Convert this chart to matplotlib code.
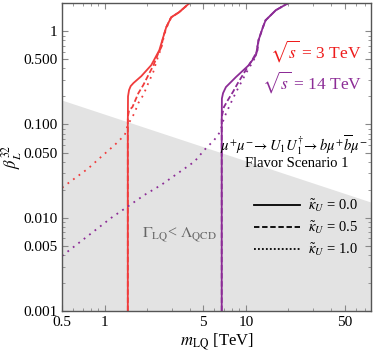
import matplotlib
matplotlib.use("Agg")
from matplotlib import pyplot as plt
from matplotlib.lines import Line2D
import numpy as np

plt.rcParams['font.family'] = ['Liberation Serif', 'DejaVu Serif']
plt.rcParams['mathtext.fontset'] = 'stix'

RED = '#f03c3c'
PURPLE = '#8c2c96'

# sqrt(s) = 3 TeV curves
red_solid_m = [1.46, 1.46, 1.465, 1.49, 1.53, 1.60, 1.82, 2.14, 2.44, 2.60, 2.73, 2.96, 3.37, 3.97]
red_solid_b = [0.001, 0.10, 0.20, 0.234, 0.258, 0.278, 0.330, 0.433, 0.626, 0.863, 1.10, 1.41, 1.60, 1.99]
red_dash_m = [1.46, 1.46, 1.49, 1.575, 1.735, 1.88, 2.04, 2.22, 2.40, 2.52, 2.60, 2.73, 2.96, 3.37, 3.97]
red_dash_b = [0.001, 0.12, 0.142, 0.154, 0.217, 0.265, 0.338, 0.433, 0.582, 0.674, 0.863, 1.10, 1.41, 1.60, 1.99]
red_dot_m = [0.5, 0.618, 0.768, 0.95, 1.18, 1.39, 1.46, 1.63, 1.73, 1.88, 2.04, 2.21, 2.32, 2.44, 2.52,
             2.62, 2.75, 2.96, 3.37, 3.97]
red_dot_b = [0.021, 0.0266, 0.0339, 0.0453, 0.0604, 0.0773, 0.099, 0.133, 0.169, 0.207, 0.278, 0.364,
             0.466, 0.582, 0.658, 0.863, 1.10, 1.41, 1.60, 1.99]

# sqrt(s) = 14 TeV curves
pur_solid_m = [6.75, 6.75, 6.77, 6.9, 7.23, 8.50, 10.5, 11.8, 12.3, 13.2, 13.8, 16.3, 19.8]
pur_solid_b = [0.001, 0.10, 0.19, 0.217, 0.252, 0.322, 0.433, 0.554, 0.80, 1.10, 1.31, 1.68, 1.99]
pur_dash_m = [6.75, 6.75, 6.85, 7.0, 7.47, 8.1, 8.78, 9.5, 10.5, 11.4, 12.1, 12.3, 13.2, 13.8, 16.3, 19.8]
pur_dash_b = [0.001, 0.12, 0.133, 0.154, 0.183, 0.223, 0.278, 0.338, 0.433, 0.527, 0.626, 0.80,
              1.10, 1.31, 1.68, 1.99]
pur_dot_m = [0.5, 1.117, 1.46, 1.92, 2.52, 3.30, 4.33, 5.09, 5.98, 6.59, 7.0, 7.6, 8.2, 8.9, 9.7,
             10.5, 11.2, 11.8, 12.3, 13.2, 13.8, 16.3, 19.8]
pur_dot_b = [0.0039, 0.0100, 0.0132, 0.0176, 0.0225, 0.030, 0.040, 0.0534, 0.0683, 0.0837, 0.117,
             0.154, 0.197, 0.252, 0.322, 0.402, 0.466, 0.554, 0.80, 1.10, 1.31, 1.68, 1.99]

# Gamma_LQ < Lambda_QCD boundary: beta = c / sqrt(m)
boundary_c = 0.129

x_ticks = [0.5, 1, 5, 10, 50]
x_labels = ['0.5', '1', '5', '10', '50']
y_ticks = [0.001, 0.005, 0.010, 0.050, 0.100, 0.500, 1]
y_labels = ['0.001', '0.005', '0.010', '0.050', '0.100', '0.500', '1']
kappa_labels = [r'$\tilde{\kappa}_U$ = 0.0', r'$\tilde{\kappa}_U$ = 0.5', r'$\tilde{\kappa}_U$ = 1.0']

xmin, xmax = 0.5, 77
ymin, ymax = 0.001, 2.0

fig = plt.figure(figsize=(3.74, 3.53), dpi=100)
ax = fig.add_axes([0.166, 0.119, 0.826, 0.872])
ax.set_xscale('log')
ax.set_yscale('log')
ax.set_xlim(xmin, xmax)
ax.set_ylim(ymin, ymax)

mm = np.geomspace(xmin, xmax, 200)
ax.fill_between(mm, ymin, boundary_c / np.sqrt(mm), color='#e3e3e3', lw=0, zorder=0)

lw = 1.3
ax.plot(red_solid_m, red_solid_b, color=RED, lw=lw, ls='-')
ax.plot(red_dash_m, red_dash_b, color=RED, lw=lw, ls=(0, (3, 1.5)))
ax.plot(red_dot_m, red_dot_b, color=RED, lw=lw, ls=(0, (1, 2.8)))
ax.plot(pur_solid_m, pur_solid_b, color=PURPLE, lw=lw, ls='-')
ax.plot(pur_dash_m, pur_dash_b, color=PURPLE, lw=lw, ls=(0, (3, 1.5)))
ax.plot(pur_dot_m, pur_dot_b, color=PURPLE, lw=lw, ls=(0, (1, 2.8)))

ax.set_xticks(x_ticks)
ax.set_xticklabels(x_labels)
ax.set_yticks(y_ticks)
ax.set_yticklabels(y_labels)
ax.tick_params(which='both', direction='in', top=True, right=True, labelsize=11, color='#888888')
ax.tick_params(which='major', length=4)
ax.tick_params(which='minor', length=2)
for s in ax.spines.values():
    s.set_color('#555555')
    s.set_linewidth(1.0)

ax.set_xlabel(r'$m_{\rm LQ}$ [TeV]', fontsize=12, labelpad=2)
ax.set_ylabel(r'$\beta_L^{32}$', fontsize=12)
ax.yaxis.set_label_coords(-0.122, 0.5)

ax.text(0.97, 0.845, r'$\sqrt{s}$ = 3 TeV', color='#ee1c1c', fontsize=12.5,
        transform=ax.transAxes, ha='right', va='center')
ax.text(0.97, 0.745, r'$\sqrt{s}$ = 14 TeV', color=PURPLE, fontsize=12.5,
        transform=ax.transAxes, ha='right', va='center')
ax.text(0.75, 0.54, r'$\mu^{+}\mu^{-}\!\to U_1U_1^{\dagger}\!\to b\mu^{+}\overline{b}\mu^{-}$',
        fontsize=10.5, transform=ax.transAxes, ha='center', va='center')
ax.text(0.76, 0.478, 'Flavor Scenario 1', fontsize=10.5,
        transform=ax.transAxes, ha='center', va='center')
ax.text(0.38, 0.245, r'$\Gamma_{\rm LQ}$< $\Lambda_{\rm QCD}$', color='#666666', fontsize=11.5,
        transform=ax.transAxes, ha='center', va='center')

handles = [Line2D([], [], color='black', lw=lw, ls='-'),
           Line2D([], [], color='black', lw=lw, ls=(0, (3, 1.5))),
           Line2D([], [], color='black', lw=lw, ls=(0, (1, 1.2)))]
ax.legend(handles, kappa_labels, loc='lower right', bbox_to_anchor=(1.0, 0.13), frameon=False,
          fontsize=10.5, handlelength=3.2, handletextpad=0.5, labelspacing=0.35)

fig.savefig('out.png', dpi=100)
